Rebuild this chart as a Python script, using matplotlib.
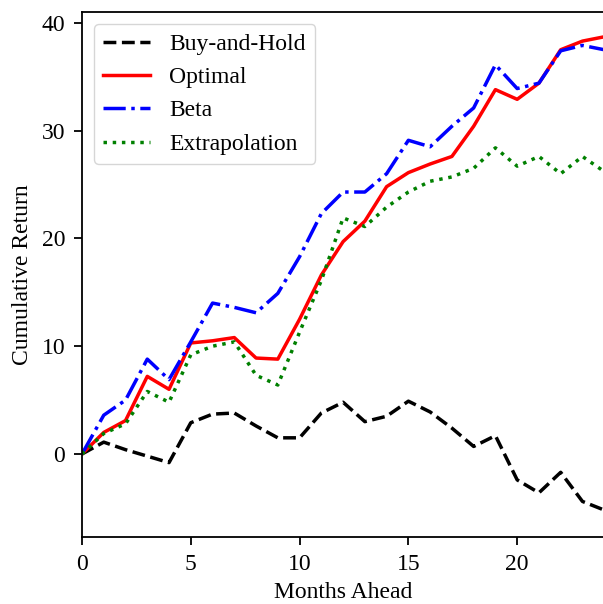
import matplotlib
matplotlib.use("Agg")
import matplotlib.pyplot as plt

months = list(range(25))
buy_hold = [0, 1.1, 0.4, -0.2, -0.8, 2.9, 3.7, 3.8, 2.6, 1.5, 1.5, 3.8, 4.8,
            3.0, 3.5, 4.9, 3.9, 2.4, 0.7, 1.7, -2.4, -3.6, -1.7, -4.4, -5.2]
optimal = [0, 2.0, 3.1, 7.2, 6.0, 10.3, 10.5, 10.8, 8.9, 8.8, 12.5, 16.6, 19.7,
           21.6, 24.8, 26.1, 26.9, 27.6, 30.4, 33.8, 32.9, 34.4, 37.5, 38.3, 38.7]
beta = [0, 3.6, 5.0, 8.8, 6.9, 10.4, 14.0, 13.6, 13.1, 14.9, 18.3, 22.3, 24.3,
        24.3, 26.0, 29.1, 28.5, 30.4, 32.1, 36.1, 33.9, 34.4, 37.4, 37.9, 37.5]
extrapolation = [0, 1.9, 2.8, 5.8, 4.8, 9.2, 10.0, 10.4, 7.3, 6.4, 11.3, 16.1, 21.9,
                 21.1, 22.9, 24.3, 25.3, 25.7, 26.5, 28.4, 26.7, 27.6, 26.0, 27.6, 26.2]

plt.rcParams['font.family'] = ['Liberation Serif', 'DejaVu Serif']
plt.rcParams['mathtext.fontset'] = 'stix'

fs = 17
fig = plt.figure(figsize=(6.03, 6.04), dpi=100)
ax = fig.add_axes([82/603, 67/604, 1.002 - 82/603, 525/604])

lw = 2.5
ax.plot(months, buy_hold, color='black', linestyle='--', linewidth=lw, label='Buy-and-Hold')
ax.plot(months, optimal, color='red', linestyle='-', linewidth=lw, label='Optimal')
ax.plot(months, beta, color='blue', linestyle='-.', linewidth=lw, label='Beta')
ax.plot(months, extrapolation, color='green', linestyle=':', linewidth=lw, label='Extrapolation')

ax.set_xlim(0, 24)
ax.set_ylim(-7.7, 41.0)
ax.set_xticks([0, 5, 10, 15, 20])
ax.set_yticks([0, 10, 20, 30, 40])
ax.tick_params(labelsize=fs, width=1.3, length=6, pad=6)
for s in ax.spines.values():
    s.set_linewidth(1.3)
ax.set_xlabel('Months Ahead', fontsize=fs, labelpad=5)
ax.set_ylabel('Cumulative Return', fontsize=fs, labelpad=6)
ax.legend(loc='upper left', fontsize=fs)

fig.savefig('out.png', dpi=100)
